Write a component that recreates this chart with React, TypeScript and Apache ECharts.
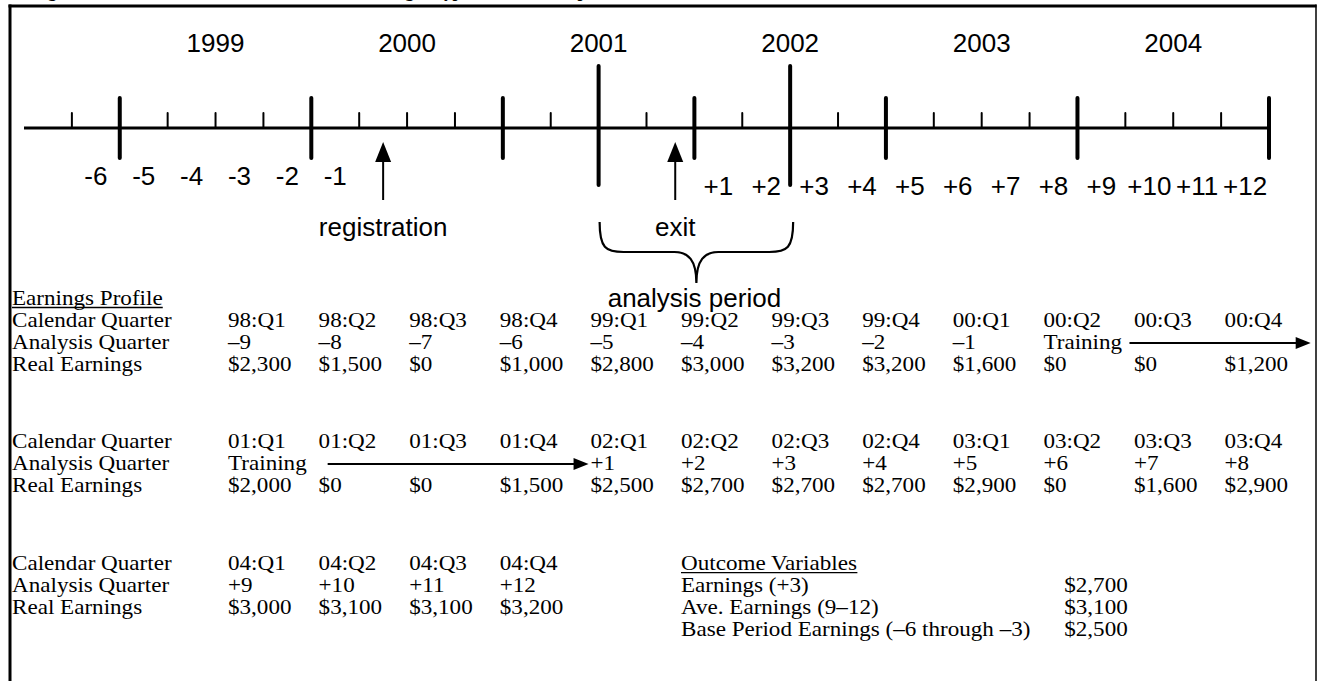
import React, { useEffect, useRef } from 'react';
import * as echarts from 'echarts';

// ---------------- data ----------------
const TITLE = 'Figure 1. Illustration of Outcome Calculations Using a Hypothetical Participant';

// timeline: quarter index 0 = 98:Q4 (start of quarter)
const TIMELINE_RANGE = [-1, 25];
const TICK_KINDS = ['q', 'y', 'q', 'q', 'q', 'y', 'q', 'q', 'q', 'y', 'q', 'p', 'q', 'y', 'q', 'p', 'q', 'y', 'q', 'q', 'q', 'y', 'q', 'q', 'q', 'y'];
const YEARS = ['1999', '2000', '2001', '2002', '2003', '2004'];
const YEAR_START = [1, 5, 9, 13, 17, 21];
const PRE_LABELS = ['-6', '-5', '-4', '-3', '-2', '-1'];
const PRE_START = 0;
const POST_LABELS = ['+1', '+2', '+3', '+4', '+5', '+6', '+7', '+8', '+9', '+10', '+11', '+12'];
const POST_START = 13;
const EVENT_LABELS = ['registration', 'exit'];
const EVENT_QUARTERS = [6.5, 12.6];
const ANALYSIS_LABEL = 'analysis period';
const ANALYSIS_SPAN = [11, 15];

// table
const PROFILE_TITLE = 'Earnings Profile';
const ROW_LABELS = ['Calendar Quarter', 'Analysis Quarter', 'Real Earnings'];
const CAL_1 = ['98:Q1', '98:Q2', '98:Q3', '98:Q4', '99:Q1', '99:Q2', '99:Q3', '99:Q4', '00:Q1', '00:Q2', '00:Q3', '00:Q4'];
const ANA_1 = ['–9', '–8', '–7', '–6', '–5', '–4', '–3', '–2', '–1', 'Training', '', ''];
const EARN_1 = ['$2,300', '$1,500', '$0', '$1,000', '$2,800', '$3,000', '$3,200', '$3,200', '$1,600', '$0', '$0', '$1,200'];
const CAL_2 = ['01:Q1', '01:Q2', '01:Q3', '01:Q4', '02:Q1', '02:Q2', '02:Q3', '02:Q4', '03:Q1', '03:Q2', '03:Q3', '03:Q4'];
const ANA_2 = ['Training', '', '', '', '+1', '+2', '+3', '+4', '+5', '+6', '+7', '+8'];
const EARN_2 = ['$2,000', '$0', '$0', '$1,500', '$2,500', '$2,700', '$2,700', '$2,700', '$2,900', '$0', '$1,600', '$2,900'];
const CAL_3 = ['04:Q1', '04:Q2', '04:Q3', '04:Q4'];
const ANA_3 = ['+9', '+10', '+11', '+12'];
const EARN_3 = ['$3,000', '$3,100', '$3,100', '$3,200'];
const TRAINING_ARROWS = [[9.95, 11.95], [1.1, 3.98]];
const OUTCOME_TITLE = 'Outcome Variables';
const OUTCOME_LABELS = ['Earnings (+3)', 'Ave. Earnings (9–12)', 'Base Period Earnings (–6 through –3)'];
const OUTCOME_VALUES = ['$2,700', '$3,100', '$2,500'];
const OUTCOME_COLS = [5, 9.23];

// ---------------- styles / layout ----------------
const SERIF = "'Liberation Serif', 'Times New Roman', serif";
const SANS = "'Liberation Sans', Arial, sans-serif";
const SERIF_SIZE = 21;
const SERIF_SCALE_X = 1.1;
const SANS_SIZE = 26;
const BLOCK_LINES = [1, 6.5, 12.05];
const LABEL_OFFSET = 216;

let measureCtx: CanvasRenderingContext2D | null = null;
function textWidth(text: string, font: string): number {
  if (!measureCtx) measureCtx = document.createElement('canvas').getContext('2d');
  if (!measureCtx) return text.length * 9;
  measureCtx.font = font;
  return measureCtx.measureText(text).width;
}

type Cell = { col: number; line: number; text: string; label?: boolean; underline?: boolean };

function buildCells(): Cell[] {
  const cells: Cell[] = [];
  cells.push({ col: 0, line: 0, text: PROFILE_TITLE, label: true, underline: true });
  const blocks = [
    [CAL_1, ANA_1, EARN_1],
    [CAL_2, ANA_2, EARN_2],
    [CAL_3, ANA_3, EARN_3],
  ];
  blocks.forEach((rows, b) => {
    rows.forEach((vals, r) => {
      const line = BLOCK_LINES[b] + r;
      cells.push({ col: 0, line, text: ROW_LABELS[r], label: true });
      vals.forEach((t, c) => {
        if (t) cells.push({ col: c, line, text: t });
      });
    });
  });
  const oLine = BLOCK_LINES[2];
  cells.push({ col: OUTCOME_COLS[0], line: oLine, text: OUTCOME_TITLE, underline: true });
  OUTCOME_LABELS.forEach((t, i) => {
    cells.push({ col: OUTCOME_COLS[0], line: oLine + 1 + i, text: t });
    cells.push({ col: OUTCOME_COLS[1], line: oLine + 1 + i, text: OUTCOME_VALUES[i] });
  });
  return cells;
}

type TLText = { q: number; text: string; dy: number };

function buildTimelineTexts(): TLText[] {
  const out: TLText[] = [];
  YEARS.forEach((y, i) => out.push({ q: YEAR_START[i] + 2, text: y, dy: -85 }));
  PRE_LABELS.forEach((t, i) => out.push({ q: PRE_START + i + 0.5, text: t, dy: 48 }));
  POST_LABELS.forEach((t, i) => out.push({ q: POST_START + i + 0.5, text: t, dy: 58 }));
  EVENT_LABELS.forEach((t, i) => out.push({ q: EVENT_QUARTERS[i], text: t, dy: 99 }));
  out.push({ q: (ANALYSIS_SPAN[0] + ANALYSIS_SPAN[1]) / 2, text: ANALYSIS_LABEL, dy: 170 });
  return out;
}

function buildOption() {
  const cells = buildCells();
  const tlTexts = buildTimelineTexts();
  const serifFont = `${SERIF_SIZE}px ${SERIF}`;

  const tickLen: Record<string, [number, number, number]> = {
    q: [-15, 0, 2],
    y: [-30, 30, 4],
    p: [-62, 57, 4],
  };

  return {
    animation: false,
    backgroundColor: '#ffffff',
    grid: [
      { left: 24, top: 28, width: 1245, height: 200 },
      { left: 228, top: 298, width: 996.6, height: 330 },
    ],
    xAxis: [
      { gridIndex: 0, type: 'value', min: TIMELINE_RANGE[0], max: TIMELINE_RANGE[1], show: false },
      { gridIndex: 1, type: 'value', min: 0, max: 11, show: false },
    ],
    yAxis: [
      { gridIndex: 0, type: 'value', min: -1, max: 1, show: false },
      { gridIndex: 1, type: 'value', min: 0, max: 15, inverse: true, show: false },
    ],
    series: [
      {
        name: 'timeline',
        type: 'line',
        xAxisIndex: 0,
        yAxisIndex: 0,
        data: [[TIMELINE_RANGE[0], 0], [TIMELINE_RANGE[1], 0]],
        symbol: 'none',
        silent: true,
        lineStyle: { color: '#000', width: 3.2 },
      },
      {
        name: 'ticks',
        type: 'custom',
        xAxisIndex: 0,
        yAxisIndex: 0,
        clip: false,
        silent: true,
        data: TICK_KINDS.map((_, i) => [i, 0]),
        renderItem: (params: any, api: any) => {
          const p = api.coord([api.value(0), 0]);
          const [a, b, w] = tickLen[TICK_KINDS[params.dataIndex]];
          return {
            type: 'line',
            shape: { x1: p[0], y1: p[1] + a, x2: p[0], y2: p[1] + b },
            style: { stroke: '#000', lineWidth: w, lineCap: 'round' },
          };
        },
      },
      {
        name: 'events',
        type: 'custom',
        xAxisIndex: 0,
        yAxisIndex: 0,
        clip: false,
        silent: true,
        data: EVENT_QUARTERS.map((q) => [q, 0]),
        renderItem: (params: any, api: any) => {
          const p = api.coord([api.value(0), 0]);
          const x = p[0];
          const y0 = p[1];
          return {
            type: 'group',
            children: [
              {
                type: 'line',
                shape: { x1: x, y1: y0 + 30, x2: x, y2: y0 + 72 },
                style: { stroke: '#000', lineWidth: 2 },
              },
              {
                type: 'polygon',
                shape: { points: [[x, y0 + 14], [x - 8, y0 + 34], [x + 8, y0 + 34]] },
                style: { fill: '#000' },
              },
            ],
          };
        },
      },
      {
        name: 'brace',
        type: 'custom',
        xAxisIndex: 0,
        yAxisIndex: 0,
        clip: false,
        silent: true,
        data: [[ANALYSIS_SPAN[0], ANALYSIS_SPAN[1]]],
        renderItem: (params: any, api: any) => {
          const l = api.coord([api.value(0), 0]);
          const r = api.coord([api.value(1), 0]);
          const L = l[0] + 1;
          const R = r[0] + 3;
          const C = (L + R) / 2;
          const y0 = l[1];
          const top = y0 + 94;
          const mid = y0 + 124;
          const tip = y0 + 155;
          const d =
            `M${L} ${top} C${L} ${mid - 4} ${L + 6} ${mid} ${L + 24} ${mid} ` +
            `L${C - 22} ${mid} C${C - 8} ${mid} ${C} ${mid + 8} ${C} ${tip} ` +
            `C${C} ${mid + 8} ${C + 8} ${mid} ${C + 22} ${mid} ` +
            `L${R - 24} ${mid} C${R - 6} ${mid} ${R} ${mid - 4} ${R} ${top}`;
          return {
            type: 'path',
            shape: { pathData: d },
            style: { fill: 'none', stroke: '#000', lineWidth: 2.2 },
          };
        },
      },
      {
        name: 'timelineText',
        type: 'custom',
        xAxisIndex: 0,
        yAxisIndex: 0,
        clip: false,
        silent: true,
        data: tlTexts.map((t) => [t.q, 0]),
        renderItem: (params: any, api: any) => {
          const t = tlTexts[params.dataIndex];
          const p = api.coord([api.value(0), 0]);
          return {
            type: 'text',
            x: p[0],
            y: p[1] + t.dy,
            style: {
              text: t.text,
              fill: '#000',
              fontFamily: SANS,
              fontSize: SANS_SIZE,
              align: 'center',
              verticalAlign: 'middle',
            },
          };
        },
      },
      {
        name: 'table',
        type: 'custom',
        xAxisIndex: 1,
        yAxisIndex: 1,
        clip: false,
        silent: true,
        data: cells.map((c) => [c.col, c.line]),
        renderItem: (params: any, api: any) => {
          const cell = cells[params.dataIndex];
          const p = api.coord([api.value(0), api.value(1)]);
          const x = cell.label ? api.coord([0, 0])[0] - LABEL_OFFSET : p[0];
          const children: any[] = [
            {
              type: 'text',
              x,
              y: p[1],
              scaleX: SERIF_SCALE_X,
              style: {
                text: cell.text,
                fill: '#000',
                fontFamily: SERIF,
                fontSize: SERIF_SIZE,
                align: 'left',
                verticalAlign: 'middle',
              },
            },
          ];
          if (cell.underline) {
            const w = textWidth(cell.text, serifFont) * SERIF_SCALE_X;
            children.push({
              type: 'line',
              shape: { x1: x, y1: p[1] + 9.5, x2: x + w, y2: p[1] + 9.5 },
              style: { stroke: '#000', lineWidth: 1.3 },
            });
          }
          return { type: 'group', children };
        },
      },
      {
        name: 'trainingArrows',
        type: 'custom',
        xAxisIndex: 1,
        yAxisIndex: 1,
        clip: false,
        silent: true,
        data: TRAINING_ARROWS.map((s, i) => [s[0], BLOCK_LINES[i] + 1, s[1]]),
        renderItem: (params: any, api: any) => {
          const a = api.coord([api.value(0), api.value(1)]);
          const b = api.coord([api.value(2), api.value(1)]);
          const y = a[1] + 1;
          return {
            type: 'group',
            children: [
              {
                type: 'line',
                shape: { x1: a[0], y1: y, x2: b[0] - 12, y2: y },
                style: { stroke: '#000', lineWidth: 2 },
              },
              {
                type: 'polygon',
                shape: { points: [[b[0], y], [b[0] - 15, y - 6], [b[0] - 15, y + 6]] },
                style: { fill: '#000' },
              },
            ],
          };
        },
      },
    ],
    graphic: [
      {
        type: 'text',
        x: 33,
        y: 0,
        silent: true,
        style: {
          text: TITLE,
          fill: '#000',
          fontFamily: SERIF,
          fontSize: 17,
          fontWeight: 'bold',
          align: 'left',
          verticalAlign: 'bottom',
        },
      },
      {
        type: 'line',
        silent: true,
        shape: { x1: 8.5, y1: 6, x2: 1316.5, y2: 6 },
        style: { stroke: '#000', lineWidth: 3 },
      },
      {
        type: 'line',
        silent: true,
        shape: { x1: 10, y1: 4.5, x2: 10, y2: 700 },
        style: { stroke: '#000', lineWidth: 3 },
      },
      {
        type: 'line',
        silent: true,
        shape: { x1: 1316, y1: 4.5, x2: 1316, y2: 700 },
        style: { stroke: '#000', lineWidth: 1.5 },
      },
    ],
  };
}

export default function App() {
  const ref = useRef<HTMLDivElement>(null);
  useEffect(() => {
    if (!ref.current) return;
    const chart = echarts.init(ref.current, null, { renderer: 'svg' });
    chart.setOption(buildOption() as any);
    return () => chart.dispose();
  }, []);
  return (
    <div
      ref={ref}
      style={{ position: 'absolute', left: 0, top: 0, width: 1320, height: 681, background: '#fff' }}
    />
  );
}
